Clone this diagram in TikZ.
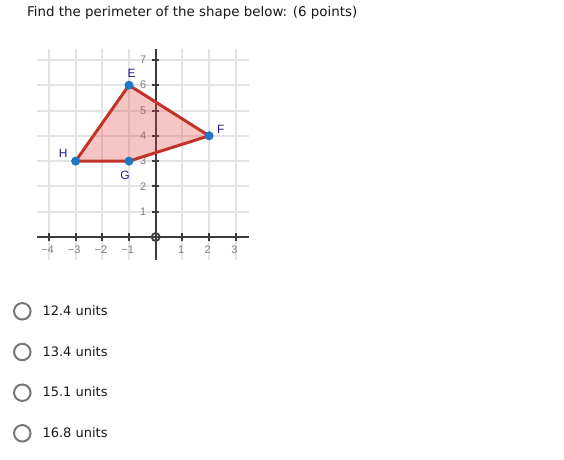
\documentclass[tikz,border=0pt]{standalone}
\usepackage{fontspec}
\setmainfont{DejaVu Sans}
\newfontfamily\arialf{Liberation Sans}
\definecolor{gridc}{RGB}{228,228,228}
\definecolor{axisc}{RGB}{60,60,60}
\definecolor{tickc}{RGB}{125,125,140}
\definecolor{ptlab}{RGB}{40,25,140}
\definecolor{edgec}{RGB}{192,52,40}
\definecolor{fillc}{RGB}{232,64,64}
\definecolor{dotc}{RGB}{30,118,200}
\definecolor{radioc}{RGB}{118,118,118}
\definecolor{txtc}{RGB}{25,25,25}
\tikzset{
  gridline/.style={draw=gridc, line width=2pt},
  axisline/.style={draw=axisc, line width=2pt},
  tickmark/.style={draw=axisc, line width=2pt},
  ticklab/.style={font=\arialf\fontsize{11}{12}\selectfont, text=tickc, inner sep=0pt},
  ptlabel/.style={font=\arialf\fontsize{12}{13}\selectfont, text=ptlab, inner sep=0pt},
  dot/.style={circle, fill=dotc, minimum size=9pt, inner sep=0pt},
  radio/.style={circle, draw=radioc, line width=2pt, minimum size=16.5pt, inner sep=0pt},
  choice/.style={font=\fontsize{13}{15}\selectfont, text=txtc, anchor=base west, inner sep=0pt},
}
\begin{document}
\begin{tikzpicture}[x=1pt, y=-1pt]
\useasboundingbox (0,0) rectangle (564,459);
\node[font=\fontsize{13.4}{15}\selectfont, text=txtc, anchor=base west, inner sep=0pt] (title) at (27,16.7) {Find the perimeter of the shape below: (6 points)};
% graph
\begin{scope}[shift={(155.7,237)}, x=26.7pt, y=25.3pt]
  \foreach \i in {-4,...,3} {\draw[gridline] (\i,-0.9) -- (\i,7.45);}
  \foreach \j in {1,...,7} {\draw[gridline] (-4.45,\j) -- (3.5,\j);}
  \draw[axisline] (-4.45,0) -- (3.5,0);
  \draw[axisline] (0,-0.9) -- (0,7.45);
  \foreach \i/\l in {-4/−4,-3/−3,-2/−2,-1/−1,1/1,2/2,3/3} {
    \draw[tickmark] (\i,-0.14) -- (\i,0.14);
    \node[ticklab] (xl\i) at (\i-0.05,-0.5) {\l};
  }
  \foreach \j in {1,...,7} {
    \draw[tickmark] (-0.13,\j) -- (0.13,\j);
    \node[ticklab] (yl\j) at (-0.47,\j) {\j};
  }
  \node[circle, draw=axisc, line width=1.8pt, minimum size=8pt, inner sep=0pt] (orig) at (0,0) {};
  \coordinate (E) at (-1,6);
  \coordinate (F) at (2,4);
  \coordinate (G) at (-1,3);
  \coordinate (H) at (-3,3);
  \fill[fillc, fill opacity=0.3] (E) -- (F) -- (G) -- (H) -- cycle;
  \draw[draw=edgec, line width=3pt, line join=round] (E) -- (F) -- (G) -- (H) -- cycle;
  \node[dot] (dE) at (E) {};
  \node[dot] (dF) at (F) {};
  \node[dot] (dG) at (G) {};
  \node[dot] (dH) at (H) {};
  \node[ptlabel] (lE) at (-0.9,6.45) {E};
  \node[ptlabel] (lF) at (2.44,4.25) {F};
  \node[ptlabel] (lG) at (-1.15,2.45) {G};
  \node[ptlabel] (lH) at (-3.46,3.3) {H};
\end{scope}
% choices
\foreach \k/\yy/\t in {1/311.3/12.4 units, 2/352/13.4 units, 3/392.7/15.1 units, 4/433.3/16.8 units} {
  \node[radio] (r\k) at (22.3,\yy) {};
  \node[choice] (c\k) at (42.3,\yy+4.2) {\t};
}
\end{tikzpicture}
\end{document}
